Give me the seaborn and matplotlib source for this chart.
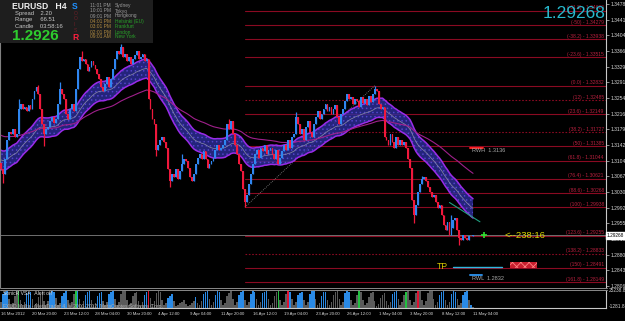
import numpy as np
import pandas as pd
import matplotlib
matplotlib.use("Agg")
import matplotlib.pyplot as plt
import seaborn as sns
from matplotlib.patches import Rectangle
from matplotlib.lines import Line2D

sns.set_theme(style="dark")
plt.rcParams['font.family'] = ['Liberation Sans', 'DejaVu Sans']
plt.rcParams['hatch.linewidth'] = 0.6

# ---------------- data ----------------
closes = [
    1.3084, 1.3072, 1.3108, 1.3155, 1.3174, 1.3167, 1.3179, 1.3160, 1.3167, 1.3227, 1.3239, 1.3227, 1.3232, 1.3222, 1.3237, 1.3227,
    1.3251, 1.3270, 1.3280, 1.3263, 1.3227, 1.3191, 1.3167, 1.3179, 1.3184, 1.3198, 1.3208, 1.3194, 1.3203, 1.3239, 1.3275, 1.3263,
    1.3251, 1.3215, 1.3203, 1.3227, 1.3239, 1.3222, 1.3275, 1.3323, 1.3351, 1.3342, 1.3347, 1.3335, 1.3318, 1.3327, 1.3342, 1.3332,
    1.3323, 1.3311, 1.3299, 1.3280, 1.3270, 1.3287, 1.3304, 1.3280, 1.3299, 1.3323, 1.3347, 1.3366, 1.3359, 1.3375, 1.3351, 1.3359,
    1.3342, 1.3351, 1.3335, 1.3347, 1.3356, 1.3366, 1.3347, 1.3351, 1.3359, 1.3342, 1.3347, 1.3251, 1.3227, 1.3203, 1.3191, 1.3131,
    1.3143, 1.3155, 1.3160, 1.3150, 1.3136, 1.3084, 1.3055, 1.3072, 1.3065, 1.3084, 1.3060, 1.3079, 1.3096, 1.3108, 1.3103, 1.3088,
    1.3065, 1.3055, 1.3072, 1.3096, 1.3112, 1.3120, 1.3108, 1.3127, 1.3108, 1.3088, 1.3096, 1.3103, 1.3112, 1.3131, 1.3143, 1.3131,
    1.3136, 1.3143, 1.3155, 1.3191, 1.3179, 1.3198, 1.3167, 1.3143, 1.3120, 1.3096, 1.3079, 1.3036, 1.3005, 1.3024, 1.3048, 1.3072,
    1.3096, 1.3120, 1.3131, 1.3112, 1.3136, 1.3127, 1.3143, 1.3120, 1.3131, 1.3136, 1.3120, 1.3108, 1.3131, 1.3096, 1.3112, 1.3127,
    1.3143, 1.3131, 1.3155, 1.3136, 1.3160, 1.3167, 1.3208, 1.3191, 1.3167, 1.3179, 1.3155, 1.3184, 1.3198, 1.3174, 1.3160, 1.3191,
    1.3208, 1.3222, 1.3203, 1.3215, 1.3227, 1.3239, 1.3222, 1.3232, 1.3215, 1.3227, 1.3237, 1.3208, 1.3191, 1.3215, 1.3227, 1.3246,
    1.3263, 1.3251, 1.3256, 1.3239, 1.3251, 1.3246, 1.3232, 1.3256, 1.3241, 1.3251, 1.3237, 1.3258, 1.3244, 1.3263, 1.3275, 1.3270,
    1.3239, 1.3227, 1.3232, 1.3160, 1.3155, 1.3143, 1.3167, 1.3150, 1.3136, 1.3160, 1.3143, 1.3155, 1.3143, 1.3150, 1.3136, 1.3108,
    1.3088, 1.3012, 1.2976, 1.3000, 1.3031, 1.3048, 1.3060, 1.3065, 1.3055, 1.3041, 1.3031, 1.3017, 1.3024, 1.3007, 1.2993, 1.3000,
    1.2976, 1.2952, 1.2940, 1.2959, 1.2928, 1.2945, 1.2964, 1.2969, 1.2940, 1.2921, 1.2916, 1.2928, 1.2921, 1.2916, 1.2926, 1.2924,
    1.29268,
]
first_open = 1.3100
high_marks = {9: 1.3251, 19: 1.3285, 30: 1.3292, 41: 1.3366, 61: 1.3382, 92: 1.3120,
              116: 1.3203, 150: 1.3220, 190: 1.32832, 214: 1.3067, 229: 1.2976}
low_marks = {1: 1.3052, 22: 1.3139, 79: 1.3115, 86: 1.3043, 124: 1.29938, 210: 1.2957, 233: 1.2904}

ema34_start = 1.3108
ema89_start = 1.3167
dragon_half_width = 0.0023

date_labels = ["16 Mar 2012", "20 Mar 20:00", "23 Mar 12:00", "28 Mar 04:00", "30 Mar 20:00",
               "4 Apr 12:00", "9 Apr 04:00", "11 Apr 20:00", "16 Apr 12:00", "19 Apr 04:00",
               "23 Apr 20:00", "26 Apr 12:00", "1 May 04:00", "3 May 20:00", "8 May 12:00", "11 May 04:00"]
date_ticks = [0, 16, 32, 48, 64, 80, 96, 112, 128, 144, 160, 176, 192, 208, 224, 240]

price_ticks = [1.34780, 1.34410, 1.34040, 1.33660, 1.33290, 1.32910, 1.32540, 1.32160, 1.31790,
               1.31420, 1.31040, 1.30670, 1.30300, 1.29920, 1.29550, 1.29180, 1.28800, 1.28430, 1.28060]

fib_names = ["-61.8", "-50", "-38.2", "-23.6", "0.0", "12", "23.6", "38.2", "50", "61.8",
             "76.4", "88.6", "100", "123.6", "138.2", "150", "161.8"]
fib_prices = [1.34620, 1.34279, 1.33938, 1.33515, 1.32832, 1.32485, 1.32149, 1.31727, 1.31385,
              1.31044, 1.30621, 1.30268, 1.29938, 1.29255, 1.28833, 1.28491, 1.28149]
fib_dotted = ["12", "38.2", "138.2"]
fib_start_bar = 124
fib_anchor_bars = [124, 190]
fib_anchor_prices = [1.29938, 1.32832]

current_price = 1.29268
rwh_price, rwl_price = 1.3136, 1.2832
tp_price = 1.2852
trend_bars = [228, 243.5]
trend_prices = [1.3005, 1.2959]

vol_days = [
    [35, 80, 92, 100, 50],
    [15, 28, 70, 90, 100, 45], [18, 35, 85, 95, 92, 50], [15, 30, 65, 80, 98, 40],
    [20, 40, 88, 100, 95, 55], [15, 30, 72, 85, 100, 45], [18, 35, 80, 100, 96, 50],
    [20, 38, 78, 92, 100, 48], [16, 30, 70, 86, 95, 42], [18, 34, 80, 94, 100, 52],
    [20, 36, 82, 96, 98, 46], [15, 30, 70, 88, 95, 42], [18, 34, 76, 90, 100, 56],
    [22, 40, 88, 98, 92, 48], [16, 30, 60, 72, 80, 38], [12, 20, 28, 36, 48, 22],
    [10, 18, 30, 40, 62, 30], [20, 38, 82, 94, 100, 52], [18, 34, 78, 96, 92, 46],
    [16, 30, 72, 88, 100, 50], [18, 32, 74, 90, 96, 44], [15, 35, 80, 100, 94, 50],
    [18, 34, 84, 95, 100, 52], [16, 30, 70, 90, 96, 45], [18, 36, 80, 100, 92, 50],
    [16, 32, 74, 88, 95, 44], [15, 34, 82, 96, 100, 50], [18, 30, 72, 90, 94, 46],
    [16, 32, 76, 92, 100, 52], [18, 36, 84, 98, 95, 48], [16, 30, 74, 100, 92, 46],
    [15, 28, 66, 84, 90, 42], [12, 24, 58, 75, 85, 40], [18, 34, 80, 95, 100, 50],
    [16, 32, 78, 92, 100, 48], [18, 36, 84, 100, 96, 44], [20, 40, 86, 96, 100, 52],
    [16, 32, 76, 92, 98, 48], [18, 36, 82, 100, 94, 50], [16, 30, 74, 90, 96, 46],
    [20, 4],
]
vol_colors = [
    "gbbbg",
    "ggggGg", "ggbbbg", "gggggg", "ggbbbg", "ggbbbg", "gggGbg", "ggbbbg", "ggbbbg", "ggbbbg",
    "gggggg", "gggggg", "ggbbRg", "gggggg", "ggbbbg", "gggggg", "ggggbg", "ggbbbg", "ggbbbg",
    "gggggg", "ggbbbg", "ggbbbg", "ggbbbg", "ggggGg", "gggRbg", "ggbbbg", "ggbbbg", "ggbbbg",
    "gggggg", "ggbbbg", "gggGgg", "gggggg", "gggggg", "ggbbbg", "gggGgg", "gggRgg", "gggggg",
    "ggbbbg", "ggbbbg", "ggbbbg", "bg",
]

# ---------------- layout ----------------
W, H = 625, 321
BG = "black"
fig = plt.figure(figsize=(W / 100, H / 100), dpi=100, facecolor=BG)


def frame(px, py, w, h):
    return [px / W, 1 - (py + h) / H, w / W, h / H]


def ft(px, py, s, **kw):
    kw.setdefault("va", "center")
    return fig.text(px / W, 1 - py / H, s, **kw)


ax = fig.add_axes(frame(0, 0, 606, 287))
axv = fig.add_axes(frame(0, 290, 606, 18), sharex=ax)
for a in (ax, axv):
    a.set_facecolor(BG)
    a.grid(False)
    for s in ("top", "bottom", "left"):
        a.spines[s].set_visible(False)
    a.spines["right"].set_color("#c8c8c8")
    a.spines["right"].set_linewidth(0.8)
ax.spines["left"].set_visible(True)
ax.spines["left"].set_color("#808080")
ax.spines["left"].set_linewidth(0.8)
axv.spines["bottom"].set_visible(True)
axv.spines["bottom"].set_color("#c8c8c8")
axv.spines["bottom"].set_linewidth(0.8)

n = len(closes)
x = np.arange(n)
c = np.array(closes)
o = np.array([first_open] + closes[:-1])
hi = np.array([max(o[i], c[i], high_marks.get(i, 0.0)) for i in range(n)])
lo = np.array([min(o[i], c[i], low_marks.get(i, 9.0)) for i in range(n)])
bull, bear = "#2f86f0", "#f0183c"
cols = [bull if c[i] >= o[i] else bear for i in range(n)]

ax.set_xlim(-0.5, 307.6)
ax.set_ylim(1.28036, 1.34875)

# fibonacci levels
for name, p in zip(fib_names, fib_prices):
    ax.plot([fib_start_bar, 307.6], [p, p], color="#8a0a22", lw=0.8,
            ls=(0, (1.5, 1.5)) if name in fib_dotted else "-", zorder=1)
    ax.text(306.5, p + 0.00012, f"({name}) - {p:.5f}", ha="right", va="bottom",
            fontsize=3.6, color="#b8203e", zorder=6)
ax.plot(fib_anchor_bars, fib_anchor_prices, color="#8a8a8a", lw=0.6, ls=(0, (1, 1.5)), zorder=1)

# bid line
ax.axhline(current_price, color="#9a9a9a", lw=0.5, zorder=1)

# SonicR dragon (EMA34) and trend (EMA89)
ema34 = pd.Series([ema34_start] + closes).ewm(span=34, adjust=False).mean().values[1:]
ema89 = pd.Series([ema89_start] + closes).ewm(span=89, adjust=False).mean().values[1:]
ax.fill_between(x, ema34 - dragon_half_width, ema34 + dragon_half_width,
                facecolor="#2e2e9c", edgecolor="#5a4ad8", hatch="....", lw=0, alpha=0.8, zorder=2)
sns.lineplot(x=x, y=ema34 + dragon_half_width, ax=ax, color="#9a2be8", lw=1.1, zorder=2.5)
sns.lineplot(x=x, y=ema34 - dragon_half_width, ax=ax, color="#9a2be8", lw=1.1, zorder=2.5)
sns.lineplot(x=x, y=ema34, ax=ax, color="#8c8ca8", lw=0.5, zorder=2.5)
sns.lineplot(x=x, y=ema89, ax=ax, color="#a0208c", lw=0.8, zorder=2.5)

# candles (drawn over the ribbon)
ax.vlines(x, lo, hi, colors=cols, lw=0.9, zorder=3)
ax.bar(x, c - o, bottom=o, width=0.9, color=cols, lw=0, zorder=3)

# trend line, markers, annotations
ax.plot(trend_bars, trend_prices, color="#20a080", lw=0.8, zorder=5)
ax.plot([245.6], [current_price], marker="+", color="#30e030", ms=4, mew=1.2, zorder=6)
ax.text(256, current_price, "<--238:16", color="#d8d800", fontsize=6.8, va="center", ha="left", zorder=6)
ax.plot([238.4, 245.1], [rwh_price, rwh_price], color="#ff2020", lw=1.4, zorder=6)
ax.text(239.5, rwh_price - 0.0002, "RWH  1.3136", color="#a8a8a8", fontsize=4, va="top", zorder=6)
ax.plot([238.4, 244.6], [rwl_price, rwl_price], color="#2a8ae0", lw=1.4, zorder=6)
ax.text(239.5, rwl_price - 0.0002, "RWL  1.2832", color="#a8a8a8", fontsize=4, va="top", zorder=6)
ax.text(221.5, tp_price, "TP", color="#d8c800", fontsize=6.2, va="center", zorder=6)
ax.plot([229.8, 254.7], [fib_prices[15] + 0.0003, fib_prices[15] + 0.0003], color="#30b8e0", lw=1.0, zorder=6)
ax.add_patch(Rectangle((258.8, 1.2848), 13.7, 0.0016, facecolor="#c81e2e", edgecolor="#ff8080",
                       hatch="xxxx", lw=0, zorder=6))

# right price axis
ax.yaxis.tick_right()
ax.set_yticks(price_ticks)
ax.set_yticklabels([f"{p:.5f}" for p in price_ticks])
ax.tick_params(axis="y", colors="#c8c8c8", labelcolor="#d8d8d8", labelsize=3.6, length=2, width=0.5, pad=1.5)
ax.tick_params(axis="x", bottom=False, labelbottom=False)
ax.set_xlabel("")
ax.set_ylabel("")

# current price box on the axis
ft(607, 235.3, "1.29268", fontsize=3.4, color="black", ha="left",
   bbox=dict(boxstyle="square,pad=0.15", facecolor="white", edgecolor="white"))

# volume indicator
vol = [v for d in vol_days for v in d]
vcode = "".join(vol_colors)
vmap = {"g": "#5a5a5a", "b": "#2a8ae6", "G": "#22c040", "R": "#e01030"}
axv.bar(np.arange(len(vol)), vol, width=0.8, color=[vmap[k] for k in vcode], lw=0)
axv.set_ylim(0, 104)
axv.set_yticks([])
axv.set_xticks(date_ticks)
axv.set_xticklabels(date_labels, ha="left")
axv.tick_params(axis="x", colors="#c8c8c8", labelcolor="#d8d8d8", labelsize=3.1, length=2, width=0.5, pad=1)
axv.set_xlabel("")
ft(609, 291, "25238.8", fontsize=3.4, color="#d8d8d8", ha="left")
ft(609, 307, "-1281.85", fontsize=3.4, color="#d8d8d8", ha="left")
ft(3, 293.5, "SonicR VSA   Alert off", fontsize=3.6, color="#e0e0e0", ha="left")
ft(3, 306, "FXDD Malta - MetaTrader 4, \u00a9 2001-2012, MetaQuotes Software Corp.", fontsize=3.6,
   color="#b0b0b0", ha="left")

# separators
for yy in (287.5, 289.5):
    fig.add_artist(Line2D([0, 607 / W], [1 - yy / H, 1 - yy / H], color="#8a8a8a", lw=0.7,
                          transform=fig.transFigure))

# big price on top right
ft(605, 13, "1.29268", fontsize=12.5, color="#28b8cc", ha="right")

# top-left info panel
fig.add_artist(Rectangle((0, 1 - 43 / H), 153 / W, 43 / H, transform=fig.transFigure,
                         facecolor="#1e1e1e", edgecolor="none", zorder=2))
ft(12, 6.5, "EURUSD   H4", fontsize=6.2, color="#eeeeee", fontweight="bold", ha="left")
ft(15, 14, "Spread    2.20", fontsize=4.2, color="#c8c8c8", ha="left")
ft(15, 20, "Range     66.51", fontsize=4.2, color="#c8c8c8", ha="left")
ft(15, 26, "Candle    03:58:16", fontsize=4.2, color="#c8c8c8", ha="left")
ft(12, 35.5, "1.2926", fontsize=11, color="#2ecc2e", fontweight="bold", ha="left")
ft(72, 6.5, "S", fontsize=6.2, color="#1e90ff", fontweight="bold", ha="left")
for yy, s in zip([13.5, 19, 25, 30.5], ["O", "O", "I", "S"]):
    ft(73.5, yy, s, fontsize=3.6, color="#702028", ha="left")
ft(72, 37, "R", fontsize=6.2, color="#ff2040", fontweight="bold", ha="left")
times = ["11:01 PM", "10:01 PM", "09:01 PM", "04:01 PM", "03:01 PM", "02:01 PM", "09:01 AM"]
cities = ["Sydney", "Tokyo", "Hongkong", "Helsinki (EU)", "Frankfurt", "London", "New York"]
rows_y = [5.5, 11, 16, 21.5, 26.5, 32, 37]
for i, (t, cty, yy) in enumerate(zip(times, cities, rows_y)):
    tc = "#9a9a9a" if i < 3 else "#b08a40"
    cc = "#9a9a9a" if i < 3 else "#28a028"
    ft(90, yy, t, fontsize=3.5, color=tc, ha="left")
    ft(115, yy, cty, fontsize=3.5, color=cc, ha="left")

fig.savefig("out.png", dpi=100, facecolor=BG)
